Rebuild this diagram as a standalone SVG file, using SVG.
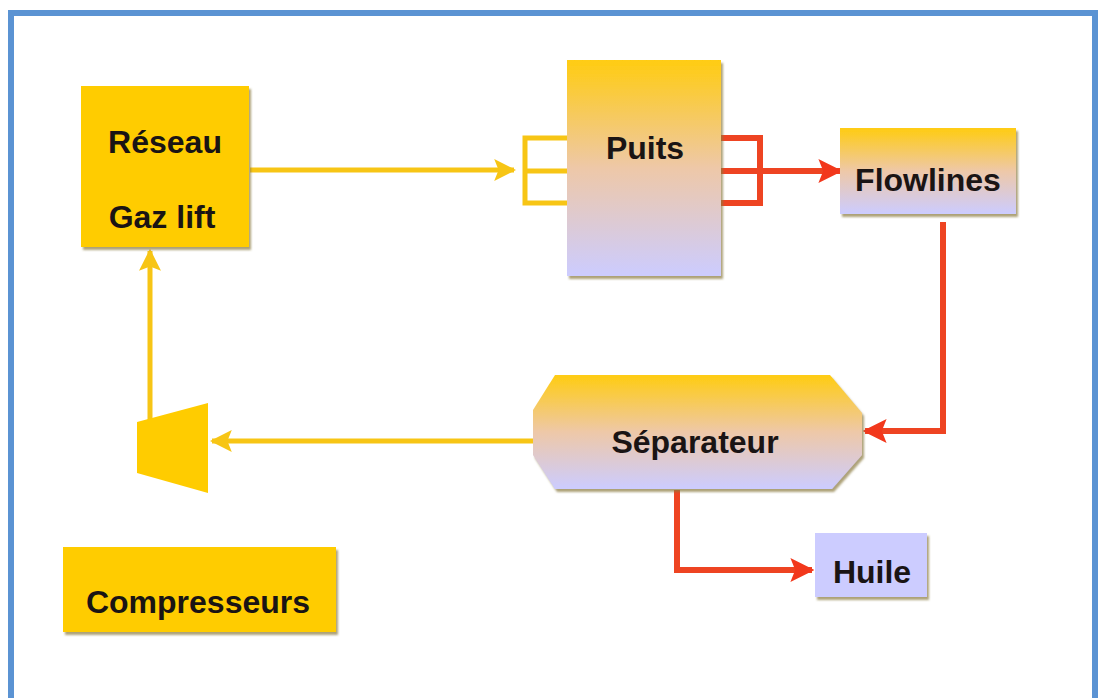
<svg xmlns="http://www.w3.org/2000/svg" width="1098" height="698" viewBox="0 0 1098 698">
<defs>
<linearGradient id="yl" x1="0" y1="0" x2="0" y2="1">
<stop offset="0" stop-color="#FFCC11"/>
<stop offset="0.5" stop-color="#EEC8A8"/>
<stop offset="1" stop-color="#CCCCFF"/>
</linearGradient>
<marker id="ay" viewBox="0 0 10 10" refX="9" refY="5" markerWidth="4.4" markerHeight="4.4" orient="auto" markerUnits="strokeWidth">
<path d="M0,0 L10,5 L0,10 L2,5 Z" fill="#F7C515"/>
</marker>
<marker id="ar" viewBox="0 0 10 10" refX="9" refY="5" markerWidth="4" markerHeight="4" orient="auto" markerUnits="strokeWidth">
<path d="M0,0 L10,5 L0,10 L2,5 Z" fill="#F2381C"/>
</marker>
<filter id="sh" x="-5%" y="-5%" width="115%" height="115%">
<feDropShadow dx="2" dy="3" stdDeviation="0.8" flood-color="#8a7a40" flood-opacity="0.7"/>
</filter>
</defs>
<style>
.t{font-family:"Liberation Sans","DejaVu Sans",sans-serif;font-weight:bold;font-size:32px;fill:#1a1414;text-anchor:middle}
.y{fill:none;stroke:#F7C515;stroke-width:5}
.r{fill:none;stroke:#EE4422;stroke-width:6}
.box{filter:url(#sh)}
</style>
<rect x="0" y="0" width="1098" height="698" fill="#ffffff"/>
<rect x="11" y="13" width="1084" height="690" fill="#FFFFFF" stroke="#5B93D3" stroke-width="6"/>

<g id="connectors">
<path class="y" d="M250,170 H514" marker-end="url(#ay)"/>
<path class="y" d="M567,138 H525 V203 H567 M525,171 H567"/>
<path class="r" d="M721,138 H760 V203 H721 M721,171 H760"/>
<path class="r" d="M760,171 H840" stroke="#F0201A" marker-end="url(#ar)"/>
<path class="r" d="M943,222 V431 H865" marker-end="url(#ar)"/>
<path class="y" d="M533,441 H212" marker-end="url(#ay)"/>
<path class="y" d="M150,420 V251" marker-end="url(#ay)"/>
<path class="r" d="M677,490 V570 H812" marker-end="url(#ar)"/>
</g>

<g id="reseau">
<rect class="box" x="81" y="86" width="168" height="161" fill="#FFCC00"/>
<text class="t" x="165" y="153">Réseau</text>
<text class="t" x="162" y="228">Gaz lift</text>
</g>

<g id="puits">
<rect class="box" x="567" y="60" width="154" height="216" fill="url(#yl)"/>
<text class="t" x="645" y="159">Puits</text>
</g>

<g id="flowlines">
<rect class="box" x="840" y="128" width="176" height="86" fill="url(#yl)"/>
<text class="t" x="928" y="191">Flowlines</text>
</g>

<g id="separateur">
<path class="box" d="M555,375 H830 L862,413 V455 L832,489 H555 L533,455 V410 Z" fill="url(#yl)"/>
<text class="t" x="695" y="453">Séparateur</text>
</g>

<g id="huile">
<rect class="box" x="815" y="533" width="112" height="64" fill="#CCCCFF"/>
<text class="t" x="872" y="583">Huile</text>
</g>

<g id="compresseur">
<path d="M137,422 L208,403 V493 L137,473 Z" fill="#FFCC00"/>
</g>

<g id="compresseurs">
<rect class="box" x="63" y="547" width="273" height="85" fill="#FFCC00"/>
<text class="t" x="198" y="613">Compresseurs</text>
</g>
</svg>
